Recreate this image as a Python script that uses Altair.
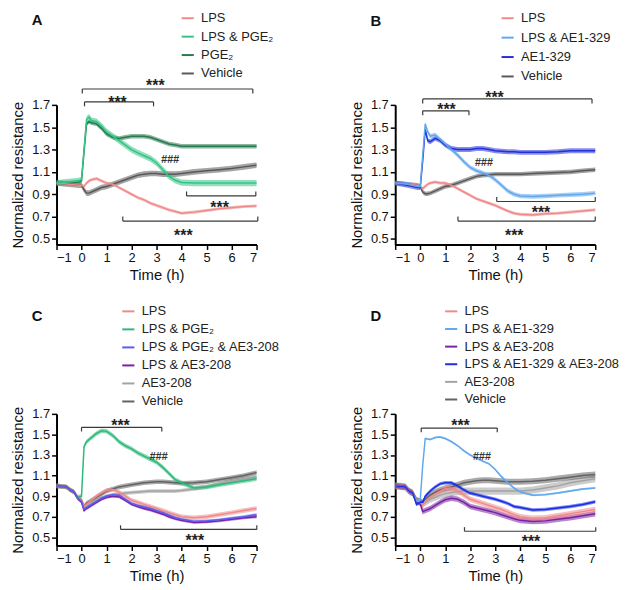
import altair as alt
import pandas as pd

# ---------------- data ----------------
T_AB = [-1, -0.5, -0.1, 0, 0.1, 0.2, 0.3, 0.4, 0.6, 0.8, 1.0, 1.25, 1.5, 1.75, 2.0,
        2.25, 2.5, 2.75, 3.0, 3.25, 3.5, 3.75, 4.0, 4.5, 5.0, 5.5, 6.0, 6.5, 7.0]
T_CD = [-1, -0.6, -0.45, -0.3, -0.15, 0, 0.1, 0.2, 0.4, 0.6, 0.8, 1.0, 1.25, 1.5, 1.75,
        2.0, 2.25, 2.5, 2.75, 3.0, 3.25, 3.5, 3.75, 4.0, 4.5, 5.0, 5.5, 6.0, 6.5, 7.0]

Y_TICKS = [0.5, 0.7, 0.9, 1.1, 1.3, 1.5, 1.7]
X_TICKS = [-1, 0, 1, 2, 3, 4, 5, 6, 7]

# Panel A
A_NAMES = ["LPS", "LPS & PGE₂", "PGE₂", "Vehicle"]
A_COLORS = ["#F08A8A", "#34C385", "#2A7A50", "#595959"]
A_LPS = [1.00, 0.99, 0.98, 0.98, 0.97, 1.00, 1.02, 1.03, 1.04, 1.02, 1.00, 0.99, 0.96, 0.93, 0.90,
         0.87, 0.85, 0.82, 0.80, 0.78, 0.76, 0.745, 0.73, 0.74, 0.755, 0.77, 0.78, 0.79, 0.795]
A_LPS_PGE2 = [1.00, 1.01, 1.02, 1.03, 1.30, 1.57, 1.59, 1.56, 1.55, 1.51, 1.46, 1.42, 1.38, 1.34, 1.30,
              1.27, 1.245, 1.22, 1.18, 1.12, 1.06, 1.025, 1.005, 1.00, 1.00, 1.00, 1.00, 1.00, 1.00]
A_PGE2 = [1.00, 1.00, 1.01, 1.02, 1.28, 1.53, 1.55, 1.54, 1.53, 1.49, 1.44, 1.41, 1.40, 1.41, 1.42,
          1.42, 1.42, 1.41, 1.39, 1.37, 1.35, 1.34, 1.33, 1.33, 1.33, 1.33, 1.33, 1.33, 1.33]
A_VEH = [1.00, 0.99, 0.98, 0.98, 0.94, 0.91, 0.91, 0.92, 0.94, 0.96, 0.97, 0.99, 1.01, 1.03, 1.05,
         1.07, 1.08, 1.085, 1.085, 1.08, 1.08, 1.08, 1.085, 1.10, 1.11, 1.12, 1.13, 1.145, 1.16]
A_SEM = [0.014, 0.028, 0.02, 0.025]

# Panel B
B_NAMES = ["LPS", "LPS & AE1-329", "AE1-329", "Vehicle"]
B_COLORS = ["#F08A8A", "#62A8EE", "#2330D8", "#595959"]
B_LPS = [1.00, 0.99, 0.98, 0.97, 0.95, 0.97, 0.99, 1.00, 1.01, 1.00, 1.00, 0.98, 0.95, 0.92, 0.89,
         0.86, 0.84, 0.82, 0.80, 0.775, 0.75, 0.73, 0.72, 0.715, 0.725, 0.73, 0.74, 0.75, 0.76]
B_LPS_AE1 = [1.00, 0.99, 0.97, 0.97, 1.25, 1.53, 1.46, 1.42, 1.43, 1.39, 1.35, 1.30, 1.25, 1.19, 1.14,
             1.11, 1.09, 1.07, 1.03, 0.98, 0.93, 0.90, 0.885, 0.88, 0.885, 0.89, 0.895, 0.90, 0.91]
B_AE1 = [1.00, 0.98, 0.96, 0.96, 1.20, 1.48, 1.38, 1.37, 1.40, 1.38, 1.34, 1.31, 1.30, 1.30, 1.30,
         1.31, 1.31, 1.30, 1.29, 1.285, 1.28, 1.28, 1.275, 1.275, 1.275, 1.28, 1.29, 1.29, 1.29]
B_VEH = [1.00, 0.99, 0.98, 0.97, 0.92, 0.905, 0.905, 0.91, 0.93, 0.95, 0.97, 0.98, 1.00, 1.02, 1.04,
         1.06, 1.07, 1.075, 1.08, 1.08, 1.08, 1.08, 1.08, 1.085, 1.09, 1.095, 1.10, 1.11, 1.12]
B_SEM = [0.014, 0.02, 0.022, 0.02]

# Panel C
C_NAMES = ["LPS", "LPS & PGE₂", "LPS & PGE₂ & AE3-208", "LPS & AE3-208", "AE3-208", "Vehicle"]
C_COLORS = ["#F08A8A", "#2DB979", "#5A5CF0", "#7A22A3", "#A3A3A3", "#636363"]
C_LPS = [1.00, 0.99, 0.96, 0.94, 0.88, 0.86, 0.80, 0.82, 0.86, 0.90, 0.93, 0.955, 0.965, 0.94, 0.90,
         0.86, 0.84, 0.82, 0.80, 0.78, 0.76, 0.74, 0.72, 0.70, 0.69, 0.70, 0.72, 0.74, 0.76, 0.78]
C_LPS_PGE2 = [1.00, 0.99, 0.96, 0.94, 0.89, 0.90, 1.38, 1.43, 1.47, 1.51, 1.535, 1.53, 1.49, 1.43, 1.39,
              1.36, 1.32, 1.29, 1.26, 1.23, 1.18, 1.12, 1.06, 1.03, 0.98, 0.99, 1.01, 1.03, 1.05, 1.07]
C_TRIPLE = [1.00, 0.99, 0.96, 0.94, 0.88, 0.85, 0.77, 0.79, 0.82, 0.85, 0.88, 0.90, 0.915, 0.91, 0.87,
            0.83, 0.81, 0.795, 0.78, 0.76, 0.74, 0.715, 0.69, 0.675, 0.655, 0.66, 0.67, 0.685, 0.70, 0.72]
C_LPS_AE3 = [1.00, 0.99, 0.96, 0.94, 0.88, 0.84, 0.76, 0.78, 0.81, 0.84, 0.87, 0.89, 0.90, 0.895, 0.86,
             0.82, 0.80, 0.78, 0.765, 0.745, 0.725, 0.70, 0.68, 0.665, 0.645, 0.65, 0.66, 0.675, 0.69, 0.70]
C_AE3 = [1.00, 0.99, 0.96, 0.94, 0.88, 0.86, 0.79, 0.81, 0.84, 0.86, 0.88, 0.90, 0.91, 0.92, 0.93,
         0.935, 0.94, 0.945, 0.95, 0.95, 0.95, 0.95, 0.95, 0.955, 0.97, 0.99, 1.02, 1.05, 1.07, 1.09]
C_VEH = [1.00, 0.99, 0.96, 0.94, 0.88, 0.86, 0.80, 0.83, 0.86, 0.89, 0.92, 0.95, 0.97, 0.99, 1.00,
         1.01, 1.02, 1.03, 1.035, 1.04, 1.04, 1.035, 1.03, 1.025, 1.03, 1.04, 1.06, 1.08, 1.10, 1.13]
C_SEM = [0.022, 0.022, 0.014, 0.014, 0.018, 0.022]

# Panel D
D_NAMES = ["LPS", "LPS & AE1-329", "LPS & AE3-208", "LPS & AE1-329 & AE3-208", "AE3-208", "Vehicle"]
D_COLORS = ["#F08A8A", "#62A8EE", "#7A22A3", "#1A2EE6", "#A3A3A3", "#636363"]
D_LPS = [1.00, 0.99, 0.95, 0.93, 0.86, 0.84, 0.82, 0.85, 0.89, 0.92, 0.95, 0.975, 0.98, 0.95, 0.91,
         0.87, 0.85, 0.83, 0.81, 0.79, 0.77, 0.745, 0.72, 0.70, 0.685, 0.69, 0.71, 0.73, 0.75, 0.77]
D_LPS_AE1 = [1.00, 0.99, 0.95, 0.93, 0.86, 0.86, 1.20, 1.46, 1.45, 1.47, 1.475, 1.46, 1.43, 1.39, 1.34,
             1.30, 1.27, 1.24, 1.215, 1.16, 1.09, 1.03, 0.98, 0.94, 0.91, 0.915, 0.93, 0.95, 0.97, 0.98]
D_LPS_AE3 = [1.00, 0.99, 0.95, 0.93, 0.86, 0.83, 0.75, 0.76, 0.78, 0.81, 0.84, 0.865, 0.88, 0.87, 0.84,
             0.80, 0.785, 0.77, 0.755, 0.74, 0.72, 0.70, 0.68, 0.665, 0.655, 0.66, 0.675, 0.69, 0.71, 0.73]
D_TRIPLE = [1.00, 0.99, 0.95, 0.93, 0.82, 0.84, 0.84, 0.90, 0.95, 0.99, 1.02, 1.03, 1.03, 1.00, 0.96,
            0.93, 0.915, 0.90, 0.885, 0.87, 0.85, 0.83, 0.80, 0.79, 0.765, 0.77, 0.785, 0.80, 0.82, 0.845]
D_AE3 = [1.00, 0.99, 0.95, 0.93, 0.86, 0.84, 0.82, 0.84, 0.87, 0.89, 0.91, 0.925, 0.935, 0.945, 0.95,
         0.95, 0.95, 0.95, 0.95, 0.95, 0.95, 0.95, 0.95, 0.95, 0.96, 0.98, 1.00, 1.03, 1.05, 1.07]
D_VEH = [1.00, 0.99, 0.95, 0.93, 0.86, 0.85, 0.84, 0.87, 0.91, 0.94, 0.96, 0.975, 0.99, 1.01, 1.03,
         1.04, 1.05, 1.055, 1.055, 1.05, 1.045, 1.04, 1.04, 1.04, 1.045, 1.055, 1.07, 1.085, 1.10, 1.11]
D_SEM = [0.027, 0.01, 0.027, 0.017, 0.035, 0.03]

# significance brackets: start, end, level, tick direction (-1 down, +1 up)
A_BRK_X1 = [0.03, 0.12, 4.2, 1.65]
A_BRK_X2 = [6.85, 2.88, 6.97, 7.05]
A_BRK_Y = [1.842, 1.727, 0.885, 0.66]
A_BRK_DIR = [-1, -1, 1, 1]
A_STAR_X = [2.95, 1.44, 5.52, 4.07]
A_STAR_Y = [1.90, 1.755, 0.815, 0.56]
A_HASH = [3.54, 1.21]

B_BRK_X1 = [0.10, 0.10, 3.06, 1.51]
B_BRK_X2 = [6.87, 1.95, 7.0, 7.0]
B_BRK_Y = [1.753, 1.647, 0.835, 0.66]
B_BRK_DIR = [-1, -1, 1, 1]
B_STAR_X = [2.97, 1.05, 4.83, 3.76]
B_STAR_Y = [1.80, 1.69, 0.765, 0.56]
B_HASH = [2.54, 1.175]

C_BRK_X1 = [0.0, 1.56]
C_BRK_X2 = [3.21, 7.01]
C_BRK_Y = [1.569, 0.577]
C_BRK_DIR = [-1, 1]
C_STAR_X = [1.56, 4.53]
C_STAR_Y = [1.62, 0.50]
C_HASH = [3.08, 1.28]

D_BRK_X1 = [0.04, 1.77]
D_BRK_X2 = [3.08, 7.02]
D_BRK_Y = [1.562, 0.559]
D_BRK_DIR = [-1, 1]
D_STAR_X = [1.61, 4.43]
D_STAR_Y = [1.62, 0.49]
D_HASH = [2.46, 1.28]

FONT = "Liberation Sans"
BRACKET_TICK = 0.04


def xenc(field):
    return alt.X(f"{field}:Q",
                 scale=alt.Scale(domain=[-1, 7], nice=False, zero=False),
                 axis=alt.Axis(values=X_TICKS, format="d", title="Time (h)"))


def make_yenc(ymin):
    def yenc(field):
        return alt.Y(f"{field}:Q",
                     scale=alt.Scale(domain=[ymin, 1.7], nice=False, zero=False),
                     axis=alt.Axis(values=Y_TICKS, format=".1f", title="Normalized resistance"),
                     stack=None)
    return yenc


def panel(label, times, names, colors, series, sems, draw_order, ymin, height,
          leg_x, leg_y, row_pad, title_dy, bx1, bx2, by, bdir, sx, sy, hsh):
    yenc = make_yenc(ymin)
    rows = []
    for name in draw_order:
        i = names.index(name)
        for t, v in zip(times, series[i]):
            rows.append({"t": t, "v": v, "lo": v - sems[i], "hi": v + sems[i], "g": name,
                         "o": draw_order.index(name)})
    df = pd.DataFrame(rows)
    cscale = alt.Scale(domain=names, range=colors)
    legend = alt.Legend(
        orient="none", legendX=leg_x, legendY=leg_y, title=None,
        labelFontSize=13, labelFont=FONT, labelColor="#222",
        symbolType="stroke", symbolStrokeWidth=2, symbolSize=150, symbolOpacity=1,
        rowPadding=row_pad, labelOffset=6, padding=0)
    color = alt.Color("g:N", scale=cscale, legend=legend)

    band = alt.Chart(df).mark_area(opacity=0.55).encode(
        x=xenc("t"), y=yenc("lo"), y2="hi:Q", color=color,
        detail="g:N", order=alt.Order("o:Q"))
    line = alt.Chart(df).mark_line(strokeWidth=1.5).encode(
        x=xenc("t"), y=yenc("v"), color=color,
        detail="g:N", order=alt.Order("o:Q"))

    hdf = pd.DataFrame({"x1": bx1, "x2": bx2, "y": by})
    vx, vy, vy2 = [], [], []
    for a, b, lv, d in zip(bx1, bx2, by, bdir):
        for xx in (a, b):
            vx.append(xx)
            vy.append(lv)
            vy2.append(lv + d * BRACKET_TICK)
    vdf = pd.DataFrame({"x": vx, "y": vy, "y2": vy2})
    hrule = alt.Chart(hdf).mark_rule(color="#3a3a3a", strokeWidth=1.2).encode(
        x=xenc("x1"), x2="x2:Q", y=yenc("y"))
    vrule = alt.Chart(vdf).mark_rule(color="#3a3a3a", strokeWidth=1.2).encode(
        x=xenc("x"), y=yenc("y"), y2="y2:Q")
    sdf = pd.DataFrame({"x": sx, "y": sy, "s": ["***"] * len(sx)})
    stars = alt.Chart(sdf).mark_text(fontSize=16, fontWeight="bold", color="#222",
                                     baseline="middle", dy=4, font=FONT).encode(
        x=xenc("x"), y=yenc("y"), text="s:N")
    hdf2 = pd.DataFrame({"x": [hsh[0]], "y": [hsh[1]], "s": ["###"]})
    hashes = alt.Chart(hdf2).mark_text(fontSize=11, fontWeight="bold", fontStyle="italic",
                                       color="#333", baseline="middle", font=FONT).encode(
        x=xenc("x"), y=yenc("y"), text="s:N")

    return alt.layer(band, line, hrule, vrule, stars, hashes).properties(
        width=202, height=height,
        title=alt.TitleParams(label, anchor="start", frame="group", fontSize=15,
                              fontWeight="bold", font=FONT, dx=-25, dy=title_dy, color="#111"))


pA = panel("A", T_AB, A_NAMES, A_COLORS, [A_LPS, A_LPS_PGE2, A_PGE2, A_VEH], A_SEM,
           ["Vehicle", "PGE₂", "LPS", "LPS & PGE₂"], 0.45, 141, 125, -95, 3.6, 21,
           A_BRK_X1, A_BRK_X2, A_BRK_Y, A_BRK_DIR, A_STAR_X, A_STAR_Y, A_HASH)
pB = panel("B", T_AB, B_NAMES, B_COLORS, [B_LPS, B_LPS_AE1, B_AE1, B_VEH], B_SEM,
           ["Vehicle", "LPS", "AE1-329", "LPS & AE1-329"], 0.45, 141, 106, -95, 4.6, 22,
           B_BRK_X1, B_BRK_X2, B_BRK_Y, B_BRK_DIR, B_STAR_X, B_STAR_Y, B_HASH)
pC = panel("C", T_CD, C_NAMES, C_COLORS, [C_LPS, C_LPS_PGE2, C_TRIPLE, C_LPS_AE3, C_AE3, C_VEH], C_SEM,
           ["AE3-208", "Vehicle", "LPS & PGE₂", "LPS", "LPS & AE3-208", "LPS & PGE₂ & AE3-208"],
           0.42, 133, 65, -111, 3.2, 24,
           C_BRK_X1, C_BRK_X2, C_BRK_Y, C_BRK_DIR, C_STAR_X, C_STAR_Y, C_HASH)
pD = panel("D", T_CD, D_NAMES, D_COLORS, [D_LPS, D_LPS_AE1, D_LPS_AE3, D_TRIPLE, D_AE3, D_VEH], D_SEM,
           ["AE3-208", "Vehicle", "LPS & AE3-208", "LPS", "LPS & AE1-329", "LPS & AE1-329 & AE3-208"],
           0.42, 133, 49, -111, 2.8, 24,
           D_BRK_X1, D_BRK_X2, D_BRK_Y, D_BRK_DIR, D_STAR_X, D_STAR_Y, D_HASH)

chart = alt.concat(
    pA, pB, pC, pD, columns=2, bounds="flush",
    spacing=alt.RowColnumber(row=171, column=140)
).resolve_scale(color="independent").resolve_legend(color="independent").properties(
    padding={"left": 2, "top": 0, "right": 0, "bottom": 0}
).configure(font=FONT).configure_view(stroke=None).configure_axis(
    domainColor="#000", domainWidth=2, tickColor="#000", tickWidth=1.5, tickSize=5,
    labelFontSize=13, labelColor="#111", labelFont=FONT, labelPadding=2,
    titleFontSize=15, titleFontWeight="normal", titleColor="#111", titleFont=FONT,
    grid=False
).configure_axisX(titlePadding=3).configure_axisY(titlePadding=6)

chart.save("out.html", embed_options={"renderer": "svg", "actions": False})
